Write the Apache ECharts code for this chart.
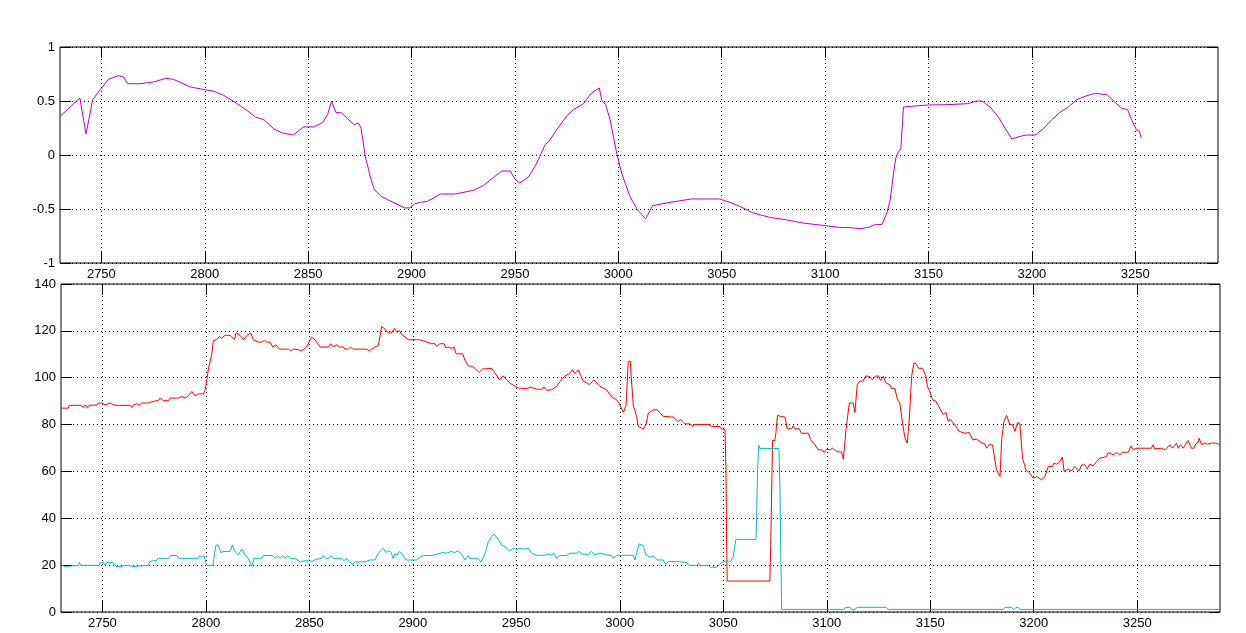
<!DOCTYPE html>
<html>
<head>
<meta charset="utf-8">
<script src="https://cdn.jsdelivr.net/npm/echarts@6/dist/echarts.min.js"></script>
<style>
html,body{margin:0;padding:0;background:#fff;}
#chart{width:1246px;height:633px;}
</style>
</head>
<body>
<div id="chart"></div>
<script>
// ---- data ----
const xTicks = [2750,2800,2850,2900,2950,3000,3050,3100,3150,3200,3250];

const magentaX = [2730.4,2739.6,2742.6,2745.8,2749.4,2753.4,2758.3,2760.7,2762.8,2768.8,2775.2,2781.2,2785,2793,2800,2804.4,2809.2,2815.7,2820.6,2824.6,2828.6,2833.5,2837.5,2842.9,2847.7,2852.9,2857,2859.4,2861.3,2863.4,2866.2,2868.3,2872.3,2874.3,2875.6,2877.5,2880.4,2882,2885.3,2888.5,2891.7,2896.6,2899,2901.4,2904.3,2907.6,2914,2921.2,2930,2934.9,2939.7,2943.7,2947.7,2950.2,2952.3,2956.6,2960.6,2964.6,2966.2,2970.3,2975.1,2978.3,2983.1,2987.1,2990.8,2992,2993.9,2996,2999.2,3001.6,3005.6,3009.2,3013.2,3016.6,3023.3,3035.4,3049,3054.7,3058.7,3065.1,3073.2,3081.2,3089.2,3100,3106.9,3112.2,3117,3121,3123.4,3127.5,3129.9,3131.5,3133.1,3134.2,3135.5,3136.6,3137.3,3137.9,3141.1,3150,3158.9,3168.8,3173.3,3175.8,3179.8,3183.8,3187,3190.3,3194.3,3197.5,3201.5,3205.6,3209.6,3213.6,3217.6,3221.7,3225.7,3229.7,3232.1,3236.5,3240.2,3243.4,3246.3,3248.2,3250.7,3252,3252.9];
const magentaY = [0.364,0.528,0.194,0.512,0.605,0.70,0.735,0.722,0.66,0.66,0.676,0.71,0.70,0.63,0.605,0.59,0.552,0.475,0.41,0.35,0.327,0.24,0.204,0.185,0.26,0.26,0.30,0.373,0.50,0.395,0.39,0.35,0.28,0.296,0.25,0.0,-0.228,-0.32,-0.383,-0.414,-0.444,-0.49,-0.49,-0.454,-0.438,-0.43,-0.361,-0.361,-0.327,-0.281,-0.207,-0.148,-0.148,-0.228,-0.26,-0.204,-0.074,0.096,0.12,0.235,0.364,0.42,0.475,0.574,0.62,0.506,0.466,0.327,0.018,-0.167,-0.383,-0.506,-0.59,-0.469,-0.444,-0.407,-0.407,-0.444,-0.475,-0.537,-0.577,-0.60,-0.63,-0.654,-0.67,-0.673,-0.682,-0.67,-0.648,-0.642,-0.537,-0.414,-0.167,-0.028,0.034,0.049,0.265,0.444,0.45,0.463,0.466,0.475,0.50,0.50,0.444,0.352,0.25,0.148,0.173,0.185,0.185,0.244,0.327,0.395,0.444,0.512,0.543,0.568,0.568,0.556,0.488,0.432,0.42,0.327,0.228,0.22,0.157];

const redX = [2730.5,2733.6,2733.9,2740,2740.8,2741.6,2742.8,2743.7,2747.3,2748,2749.7,2751.3,2753.7,2755.3,2756.1,2757.2,2763.4,2764.2,2765,2766.6,2767.9,2769,2772.2,2773,2774.6,2775.4,2777,2777.9,2779.5,2781.9,2782.7,2786.7,2788.3,2789.9,2791.5,2793.2,2794.8,2796.4,2798.8,2799.6,2800.5,2801.2,2802,2802.8,2803.6,2805.2,2806.5,2807.6,2809.3,2811.7,2813.8,2814.6,2816.5,2818.1,2820,2821.7,2822.9,2825.4,2827,2828.1,2829.4,2831,2832.3,2833.9,2835.5,2839.9,2841,2842.3,2844.7,2846,2847.4,2848.7,2850,2851.1,2852.7,2855.2,2859.2,2860.3,2861.6,2863.2,2864.5,2866.4,2867.2,2868.8,2869.9,2870.9,2877.7,2879,2880.1,2881.7,2883.3,2884.1,2884.9,2886.5,2888.1,2889.8,2891.1,2892.5,2893.5,2894.6,2896.2,2897.8,2901.9,2903.3,2905.9,2906.7,2909.1,2910.7,2911.5,2913.1,2915.1,2916,2917.1,2918.8,2919.9,2920.9,2924.1,2925.2,2926.8,2928.9,2932.1,2933.7,2938.1,2939.7,2941.8,2943.7,2945.3,2946.9,2949.4,2950.2,2951,2954.7,2956.9,2959.8,2962.2,2963.4,2964.7,2967.1,2969.5,2971.1,2973.5,2975.6,2977.1,2978.3,2979.9,2982.4,2984,2985.3,2987.5,2990.4,2993.6,2996.1,2998.5,3000.1,3001.7,3003,3003.8,3004.1,3005.1,3005.4,3006.5,3008.1,3008.9,3011.4,3012.6,3013.8,3016.2,3018.1,3021,3025.8,3028.3,3029.4,3031.5,3033.9,3035.2,3036.3,3042.8,3044.4,3048.4,3049.2,3050.8,3051.3,3051.6,3051.9,3072.5,3072.9,3073.5,3073.8,3074.9,3075.4,3076.2,3077.7,3079.8,3080.9,3083,3083.8,3084.6,3086.7,3087.8,3091.1,3092.2,3094.3,3095.9,3097.8,3098.8,3099.9,3101.5,3102.8,3104.8,3107.2,3108,3109.3,3110.9,3112.8,3113.6,3114.7,3115.7,3117.6,3118.9,3120.9,3122.1,3123.3,3124.9,3126,3127.3,3128.6,3130.5,3131.3,3132.9,3134.2,3135.3,3136.6,3137.8,3138.9,3139.9,3141,3142.1,3143.1,3144.2,3146.3,3147.9,3148.6,3149.8,3151.1,3152.7,3154.3,3156.3,3157.6,3158.7,3159.5,3161.9,3164,3166.7,3168.8,3170.5,3172.4,3174.3,3176.4,3177.2,3178.5,3180.1,3181.2,3182,3183.7,3184.5,3185.6,3186.9,3188.5,3189.8,3190.9,3192.2,3193.3,3194.6,3196.2,3198.1,3199.7,3201.6,3203.7,3205.4,3207,3209.1,3209.7,3211,3212.6,3213.8,3214.7,3216.6,3218.3,3219.9,3222,3223.1,3224.7,3225.8,3227.1,3228.7,3230.4,3232,3233.6,3235.2,3236,3238.4,3240,3241.6,3242.9,3245.7,3247,3248.1,3249.7,3256.9,3257.7,3258.5,3261.8,3263.4,3265.8,3267.1,3269,3269.8,3270.9,3272.2,3273,3274.6,3276.2,3277.4,3278.3,3279.5,3279.9,3281.1,3282.7,3284,3285.9,3288,3289.9];
const redY = [87,87,88.2,88.2,87.3,88.4,87.3,88.3,88.3,89.2,89.2,88.4,89.2,88.4,89.2,88.2,88.2,87.3,88.4,88.9,88.4,89.2,89.2,89.9,89.9,89.2,90.3,91.3,90.2,90.2,91.3,91.3,92,91.3,92.3,94.1,92.3,93.1,93.1,94.6,99.1,103.7,104.5,109.8,115.8,116.2,117.6,116.9,118.1,118.1,116.2,119.1,118.1,116.2,118.1,119.1,116.2,115.2,115.2,115.9,115.2,115.2,113.1,114.1,112.2,112.2,111.4,112.2,112,111.4,112.2,113.1,115.5,117.4,116.2,113.1,113.1,114.5,113.1,114.1,113.1,113.1,112.2,112.2,113.1,112.2,112.2,111.4,112.2,113.1,113.7,117.6,121.9,120.8,119.1,119.1,121.1,119.3,120.2,118.4,117.4,116.2,116.2,116.2,115.5,116.2,114.5,114.5,113.4,114.5,114.5,112.7,113.1,112.5,113.1,110.2,110.2,107.4,105.1,104.8,102.3,103.7,104,102,99.1,100.8,99.1,97.7,96.3,97,95.6,95.3,96,95.1,95.1,96,94.6,94.9,96.3,98.4,100.8,101.7,103.4,101.7,103.4,98.4,98,97,99.1,96.3,94.9,91.7,90.6,88.4,85.2,88,102,107,107,102,88.4,83.5,79.2,78.1,79.9,84.9,86.3,86.3,83.5,83.2,81.3,82.3,80.3,80.3,79.2,80,80,79.2,79.2,78.1,78.1,60.7,29.3,13.2,13.2,27.9,57.8,73.2,73.2,76.3,83.9,83.5,83.2,78.2,78.2,79.5,78.2,78.2,76.3,76.3,73.5,71.4,69.2,69.2,68.1,69.5,69.2,69.9,68.5,68.2,65.2,77.8,89.2,89.2,85.2,97,98.4,98.7,100.8,100.3,99.1,100.6,100.8,98.8,100.6,97.7,97,95.4,95.4,90.6,89.2,80.6,74.2,72.1,82.8,100.6,106.3,106,104.1,104,100.8,96.3,94.1,90.6,89.9,87.5,84.2,85.2,81.3,82.3,79.9,77.1,76.3,76.6,73.5,73.8,72.4,71.8,69.9,71.4,71.4,64.9,60.7,57.8,73.5,81.3,83.9,79.9,79.9,77.1,80.9,80.3,65.7,60.7,59.3,57.1,57.8,56.4,57.8,62.1,62.1,63.5,63.1,64.2,66.1,60,61,60.2,62.1,60.2,62.8,62.8,61.1,63.1,62.4,64.2,65.7,65.9,66.4,68.1,67.1,68.1,67.1,68.2,68.2,70.9,69.2,69.9,69.9,71.4,69.6,69.9,69.2,71.4,69.9,72.1,69.9,71.4,69.9,69.9,73.2,69.9,69.9,71.8,72.4,74.2,71.4,72.1,71.6,72.1,72.1,71.4];

const cyanX = [2730.5,2732,2732.8,2738.4,2738.9,2739.5,2748.6,2748.9,2750.5,2751.3,2752.1,2755,2756.6,2759.3,2760.5,2762.6,2763.4,2765,2765.8,2772.2,2773,2774.3,2776.2,2777,2781.9,2783,2785.9,2786.7,2788.3,2789.1,2789.9,2796.4,2796.9,2798,2799.1,2800.4,2803.3,2804.9,2806,2807.2,2808.5,2811.7,2812.8,2813.8,2815.7,2817.3,2818.9,2820.5,2822.1,2823.3,2827,2827.8,2832.3,2833.4,2834.7,2835.8,2837.1,2838.2,2839.4,2840.6,2843.1,2845.5,2850,2851.1,2853.5,2855.9,2856.7,2858,2859.2,2860.3,2861.6,2865.6,2866.7,2868,2869.3,2870.9,2872,2876.9,2877.7,2879.3,2881.7,2883.3,2885.7,2887,2888.1,2889.3,2890.5,2891.3,2892.5,2893.5,2894.6,2896.7,2901.9,2903.3,2905.1,2905.9,2909.1,2909.9,2912.3,2913.1,2914.4,2916.3,2918.3,2920.4,2921.5,2923.6,2925.2,2926.8,2927.6,2931.6,2932.9,2934.9,2936.5,2938.1,2939.2,2940.8,2942.9,2944.5,2946.6,2948.6,2950.2,2951.4,2953.4,2955.8,2957.4,2959.8,2963.8,2965.5,2967.1,2968.2,2969.5,2971.1,2974.3,2975.9,2979.1,2980.4,2981.6,2984.8,2986.4,2988,2990.4,2993.6,2996.1,2996.9,2998.5,3006.5,3007.3,3009.3,3011.4,3012.6,3014.6,3016.2,3018.1,3021,3022.1,3023.4,3028.3,3029,3032.3,3033.4,3037.1,3038.2,3038.7,3042.8,3043.9,3046.8,3049.2,3051.6,3053.5,3054.8,3056.1,3065.8,3066.1,3066.6,3067.1,3067.7,3076.9,3077.4,3077.9,3078.2,3108,3109.3,3111.2,3112,3113.6,3114.7,3128.6,3129.7,3185.3,3186.1,3189.3,3190.4,3191.4,3192.5,3193.3,3289.9];
const cyanY = [19.9,19.4,19.9,19.9,21.1,19.9,19.9,21.1,21.1,19.9,21.1,21.1,19.4,19.4,19.9,19.9,19.4,19.4,19.9,19.9,21.5,21.9,21.9,22.9,22.9,24.1,24.1,22.9,22.9,22.2,22.9,22.9,24.1,23.4,24.1,19.9,19.9,28.6,28.6,25.4,25.8,25.8,28.6,26.1,24.4,26.9,24.4,22.9,19.4,22.9,22.9,24.1,24.1,22.9,24.1,22.9,24.1,22.9,24.1,22.9,22.9,21.4,22.2,21.5,22.5,22.9,24.1,22.9,22.9,24.1,22.9,22.9,21.9,22.9,21.5,20.1,21.4,21.4,22.2,22.2,22.2,25.1,27.2,25.4,26.1,25.8,22.9,24.8,24.4,25.8,25.1,22.2,22.2,23.4,24.1,23.4,24.1,23.4,24.8,24.4,25.4,25.1,25.8,25.4,26.1,24.8,22.2,24.1,22.9,22.9,21.2,25.1,30.1,32.2,33.3,31.5,28.6,27.9,26.1,27.2,26.5,27.2,26.8,27.2,25.1,24.2,24.2,24.8,24.2,25.1,22.9,24.1,24.1,25.1,25.1,25.8,24.8,24.4,25.8,24.4,25.1,24.4,24.1,22.9,24.2,24.2,22.2,29.1,28.2,24.4,23.4,23.9,22.2,22.2,20.4,21.5,21.5,21.1,21.1,19.9,19.9,20.8,19.9,19.9,19.1,19.1,21.1,21.9,21.4,23.6,31,31,40.7,61,71.2,69.8,69.8,52.1,17.9,1.1,1.1,2,2,1.1,1.1,2,2,1.1,1.1,2,2,1.1,2,2,1.1,1.1];

function pairs(xs, ys) { return xs.map((x, i) => [x, ys[i]]); }

const FONT = '"Liberation Sans", Arial, sans-serif';
const lbl = { color: '#000', fontSize: 13, fontFamily: FONT, formatter: v => String(v) };
const dotted = { color: '#000', width: 1, type: [1, 3] };
const tickStyle = { color: '#000', width: 1 };

function mainX(grid) {
  return {
    type: 'value', gridIndex: grid, min: 2730, max: 3290, position: 'bottom',
    axisLine: { show: false, onZero: false },
    axisTick: { show: true, inside: true, length: 11, lineStyle: tickStyle, customValues: xTicks },
    axisLabel: Object.assign({ margin: 5, customValues: xTicks }, lbl),
    splitLine: { show: true, lineStyle: dotted }
  };
}
function boxX(grid) {
  return {
    type: 'value', gridIndex: grid, min: 2730, max: 3290, position: 'top',
    axisLine: { show: false, onZero: false },
    axisTick: { show: true, inside: true, length: 11, lineStyle: tickStyle, customValues: xTicks },
    axisLabel: { show: false },
    splitLine: { show: false }
  };
}
function mainY(grid, min, max, step) {
  return {
    type: 'value', gridIndex: grid, min: min, max: max, interval: step, position: 'left',
    axisLine: { show: false, onZero: false },
    axisTick: { show: true, inside: true, length: 11, lineStyle: tickStyle },
    axisLabel: Object.assign({ margin: 5 }, lbl),
    splitLine: { show: true, lineStyle: dotted }
  };
}
function boxY(grid, min, max, step) {
  return {
    type: 'value', gridIndex: grid, min: min, max: max, interval: step, position: 'right',
    axisLine: { show: false, onZero: false },
    axisTick: { show: true, inside: true, length: 11, lineStyle: tickStyle },
    axisLabel: { show: false },
    splitLine: { show: false }
  };
}

const chart = echarts.init(document.getElementById('chart'), null, { renderer: 'canvas' });
chart.setOption({
  animation: false,
  backgroundColor: '#fff',
  grid: [
    { left: 60, top: 47, width: 1158, height: 216, show: true, borderColor: '#000', borderWidth: 1, backgroundColor: 'transparent' },
    { left: 61, top: 284, width: 1159, height: 328, show: true, borderColor: '#000', borderWidth: 1, backgroundColor: 'transparent' }
  ],
  xAxis: [mainX(0), mainX(1), boxX(0), boxX(1)],
  yAxis: [mainY(0, -1, 1, 0.5), mainY(1, 0, 140, 20), boxY(0, -1, 1, 0.5), boxY(1, 0, 140, 20)],
  series: [
    { type: 'line', xAxisIndex: 0, yAxisIndex: 0, data: pairs(magentaX, magentaY), showSymbol: false, lineStyle: { color: '#bf00bf', width: 1 }, itemStyle: { color: '#bf00bf' } },
    { type: 'line', xAxisIndex: 1, yAxisIndex: 1, data: pairs(redX, redY), showSymbol: false, lineStyle: { color: '#ff0000', width: 1 }, itemStyle: { color: '#ff0000' } },
    { type: 'line', xAxisIndex: 1, yAxisIndex: 1, data: pairs(cyanX, cyanY), showSymbol: false, lineStyle: { color: '#00bfbf', width: 1 }, itemStyle: { color: '#00bfbf' } }
  ]
});
</script>
</body>
</html>
